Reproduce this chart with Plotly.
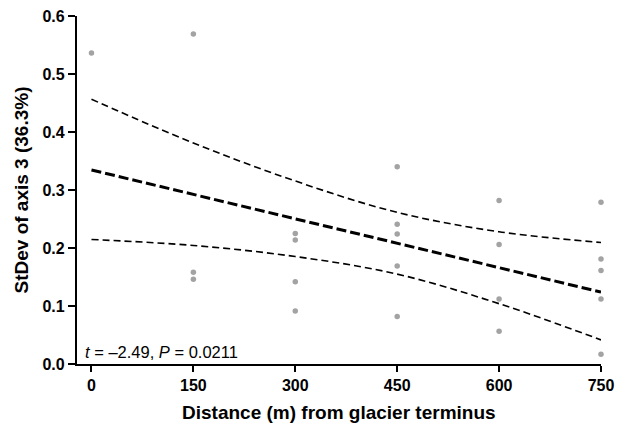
import plotly.graph_objects as go

# Observed points (distance from glacier terminus, StDev of axis 3)
pt_x = [0,
        150, 150, 150,
        300, 300, 300, 300,
        450, 450, 450, 450, 450,
        600, 600, 600, 600,
        750, 750, 750, 750, 750]
pt_y = [0.536,
        0.569, 0.158, 0.146,
        0.225, 0.214, 0.142, 0.0915,
        0.340, 0.241, 0.224, 0.169, 0.082,
        0.282, 0.206, 0.112, 0.0565,
        0.279, 0.181, 0.161, 0.112, 0.017]

# Regression line end points
fit_x = [0, 750]
fit_y = [0.3345, 0.124]

# Confidence band
ci_x = [0, 150, 300, 450, 600, 750]
ci_upper = [0.4565, 0.381, 0.3155, 0.2614, 0.228, 0.2095]
ci_lower = [0.2147, 0.2044, 0.1853, 0.155, 0.104, 0.0415]

x_ticks = [0, 150, 300, 450, 600, 750]
y_ticks = [0.0, 0.1, 0.2, 0.3, 0.4, 0.5, 0.6]

FONT = "Liberation Sans, Arial, Helvetica, sans-serif"

fig = go.Figure()
fig.add_trace(go.Scatter(x=pt_x, y=pt_y, mode="markers",
                         marker=dict(color="#a3a3a3", size=5.5),
                         cliponaxis=False, showlegend=False))
fig.add_trace(go.Scatter(x=ci_x, y=ci_upper, mode="lines",
                         line=dict(color="black", width=1.6, dash="7px,4px", shape="spline"),
                         showlegend=False))
fig.add_trace(go.Scatter(x=ci_x, y=ci_lower, mode="lines",
                         line=dict(color="black", width=1.6, dash="7px,4px", shape="spline"),
                         showlegend=False))
fig.add_trace(go.Scatter(x=fit_x, y=fit_y, mode="lines",
                         line=dict(color="black", width=3, dash="10px,4px"),
                         showlegend=False))

fig.add_annotation(x=0, y=0, xref="paper", yref="paper", xanchor="left", yanchor="bottom",
                   xshift=6, yshift=1, showarrow=False,
                   text="<i>t</i> = –2.49, <i>P</i> = 0.0211",
                   font=dict(family=FONT, size=16.5, color="black"))

# Axis titles as annotations (fixed pixel placement)
fig.add_annotation(x=0.5, y=0, xref="paper", yref="paper", xanchor="center", yanchor="middle",
                   yshift=-48, showarrow=False,
                   text="<b>Distance (m) from glacier terminus</b>",
                   font=dict(family=FONT, size=19, color="black"))
fig.add_annotation(x=0, y=0.5, xref="paper", yref="paper", xanchor="center", yanchor="middle",
                   xshift=-56.5, showarrow=False, textangle=-90,
                   text="<b>StDev of axis 3 (36.3%)</b>",
                   font=dict(family=FONT, size=19, color="black"))

fig.update_layout(
    width=617, height=426,
    margin=dict(l=77, r=16, t=16, b=62),
    paper_bgcolor="white", plot_bgcolor="white",
    font=dict(family=FONT, color="black"),
)
fig.update_xaxes(range=[-21.3, 750], tickvals=x_ticks, ticktext=[str(v) for v in x_ticks],
                 showline=True, linecolor="black", linewidth=2.2,
                 ticks="outside", ticklen=6, tickwidth=2, tickcolor="black",
                 showgrid=False, zeroline=False, automargin=False,
                 tickfont=dict(family=FONT, size=16, weight="bold"))
fig.update_yaxes(range=[0, 0.6], tickvals=y_ticks, ticktext=[f"{v:.1f}" for v in y_ticks],
                 showline=True, linecolor="black", linewidth=2.2,
                 ticks="outside", ticklen=7, tickwidth=2, tickcolor="black",
                 showgrid=False, zeroline=False, automargin=False,
                 tickfont=dict(family=FONT, size=16, weight="bold"))

fig.write_html("out.html")
